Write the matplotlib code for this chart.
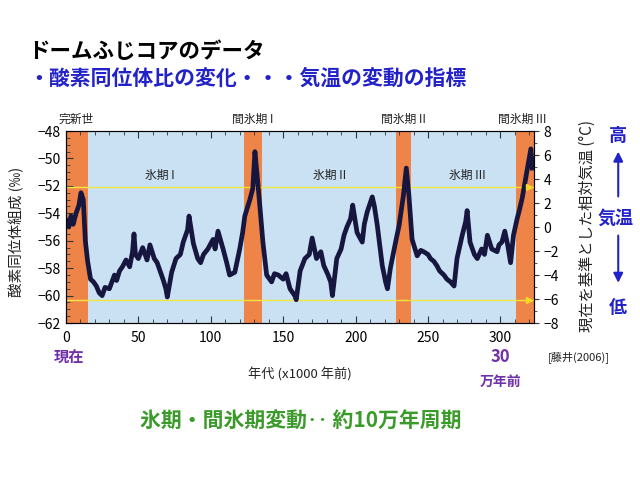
import numpy as np
import matplotlib.pyplot as plt
from matplotlib.ticker import MultipleLocator

plt.rcParams['font.family'] = ['Noto Sans CJK JP', 'DejaVu Sans']

# --- datos (edad en miles de anos, d18O en permil) ---
edad = [0, 2, 3.5, 5, 7, 9, 10.4, 12, 13.4, 15, 17, 19, 21, 23, 25, 27, 30, 33.5, 35, 37,
        39, 41.5, 44, 46, 47, 48, 50, 53, 56, 58, 61, 63, 65, 67, 69, 70, 73, 76, 79, 81,
        84, 85, 88, 91, 93, 95, 98, 101.6, 103, 105, 108.5, 111, 113, 116.6, 118, 120, 122,
        123.5, 127, 129, 130.5, 132, 134, 136, 138.6, 142, 144, 146.6, 150, 152, 154.7, 158,
        159, 161.7, 165, 168, 170, 173, 176, 178, 181, 182.8, 184, 187, 190, 192, 194,
        196.5, 198, 201, 204.6, 206, 208, 211.5, 213, 215, 218.4, 220.7, 222, 224, 227.6,
        230, 233, 235, 236.8, 239, 242.5, 245, 247, 250, 251.7, 254, 256, 258, 261, 263,
        265.5, 268, 270, 273.6, 276, 277, 279, 282, 284, 287, 289, 291, 294, 297.7, 299,
        301, 303, 305, 307, 309, 311.5, 313, 315, 317, 319.5, 321, 322]
d18o = [-54.5, -55.0, -54.2, -54.8, -54.0, -53.4, -52.5, -53.0, -56.0, -57.5, -58.8, -59.0,
        -59.3, -59.8, -60.0, -59.4, -59.5, -58.5, -58.9, -58.2, -57.9, -57.4, -57.9, -56.8,
        -55.5, -57.0, -57.3, -56.5, -57.4, -56.3, -57.3, -57.6, -58.2, -58.8, -59.5, -60.1,
        -58.3, -57.3, -57.0, -56.1, -55.2, -54.2, -56.2, -57.3, -57.6, -57.0, -56.6, -55.9,
        -56.6, -55.3, -56.6, -57.6, -58.5, -58.3, -57.6, -56.6, -55.4, -54.2, -53.0, -52.2,
        -49.5, -51.2, -53.6, -56.1, -58.5, -59.0, -58.4, -58.5, -58.8, -58.4, -59.5, -60.0,
        -60.3, -58.2, -57.3, -57.0, -55.8, -57.3, -56.8, -57.8, -58.5, -59.0, -60.0, -57.3,
        -56.6, -55.6, -55.0, -54.4, -53.4, -55.4, -56.1, -54.8, -53.9, -52.8, -53.5, -54.9,
        -57.8, -59.0, -59.5, -58.0, -56.1, -54.9, -52.7, -50.7, -52.7, -55.9, -57.1, -56.7,
        -56.8, -57.0, -57.3, -57.5, -57.8, -58.2, -58.5, -58.8, -59.0, -59.3, -57.3, -55.6,
        -54.6, -53.8, -56.1, -57.0, -57.3, -56.6, -57.0, -55.6, -56.6, -56.8, -56.3, -56.1,
        -55.3, -56.3, -57.6, -55.6, -54.4, -53.8, -52.9, -51.7, -50.2, -49.3, -50.7]

interglaciales = [(0, 15), (123, 135.6), (228, 238), (311, 323)]
linea_alta = -52.05
linea_baja = -60.3

fig = plt.figure(figsize=(6.4, 4.8), dpi=100)
ax = fig.add_axes([0.103, 0.327, 0.731, 0.400])
ax.set_facecolor('#c9e1f3')

for a, b in interglaciales:
    ax.axvspan(a, b, color='#ef8448', zorder=1, lw=0)

ax.axhline(linea_alta, color='#f2e640', lw=1, zorder=2)
ax.axhline(linea_baja, color='#f2e640', lw=1, zorder=2)
ax.plot(edad, d18o, color='#16163e', lw=3.4, zorder=3)
ax.plot([319.5, 319.5], [linea_alta, linea_baja], ls='none', marker='>', ms=5,
        color='#f5d820', zorder=4)

ax.set_xlim(0, 323)
ax.set_ylim(-62, -48)
ax.xaxis.set_major_locator(MultipleLocator(50))
ax.xaxis.set_minor_locator(MultipleLocator(10))
ax.yaxis.set_major_locator(MultipleLocator(2))
ax.yaxis.set_minor_locator(MultipleLocator(0.5))
ax.tick_params(axis='both', which='both', direction='in', top=True, labelsize=10, color='#333333')
ax.tick_params(which='major', length=5)
ax.tick_params(which='minor', length=3)
ax.tick_params(axis='x', pad=6)
for s in ax.spines.values():
    s.set_color('#333333')

ax2 = ax.twinx()
ax2.set_ylim(-8, 8)
ax2.yaxis.set_major_locator(MultipleLocator(2))
ax2.yaxis.set_minor_locator(MultipleLocator(1))
ax2.tick_params(axis='y', which='both', direction='out', labelsize=10, color='#333333')

ax.text(0.5, -0.27, '年代 (x1000 年前)', transform=ax.transAxes, ha='center', va='center',
        fontsize=9.5, color='#222222')
fig.text(0.026, 0.517, '酸素同位体組成 (‰)', rotation=90, ha='center', va='center',
         fontsize=10.5, color='#222222')
fig.text(0.917, 0.529, '現在を基準とした相対気温 (°C)', rotation=90, ha='center', va='center',
         fontsize=11, color='#222222')

# etiquetas de periodos
ax.text(7, -47.6, '完新世', ha='center', va='bottom', fontsize=8.5, color='#222222')
ax.text(129, -47.6, '間氷期 I', ha='center', va='bottom', fontsize=8.5, color='#222222')
ax.text(233, -47.6, '間氷期 II', ha='center', va='bottom', fontsize=8.5, color='#222222')
ax.text(315, -47.6, '間氷期 III', ha='center', va='bottom', fontsize=8.5, color='#222222')
ax.text(65, -51.2, '氷期 I', ha='center', va='center', fontsize=8.5, color='#222222')
ax.text(182, -51.2, '氷期 II', ha='center', va='center', fontsize=8.5, color='#222222')
ax.text(277, -51.2, '氷期 III', ha='center', va='center', fontsize=8.5, color='#222222')

# titulos
fig.text(0.044, 0.892, 'ドームふじコアのデータ', fontsize=15.5, fontweight='bold',
         color='black', ha='left', va='center')
fig.text(0.044, 0.838, '・酸素同位体比の変化・・・気温の変動の指標', fontsize=15,
         fontweight='bold', color='#2222c8', ha='left', va='center')

fig.text(0.108, 0.254, '現在', fontsize=11, fontweight='bold', color='#7030a8',
         ha='center', va='center')
fig.text(0.782, 0.256, '30', fontsize=12, fontweight='bold', color='#7030a8',
         ha='center', va='center')
fig.text(0.782, 0.204, '万年前', fontsize=10, fontweight='bold', color='#7030a8',
         ha='center', va='center')
fig.text(0.905, 0.257, '[藤井(2006)]', fontsize=8, color='#222222', ha='center', va='center')

fig.text(0.47, 0.125, '氷期・間氷期変動‥ 約10万年周期', fontsize=15, fontweight='bold',
         color='#3a9a2a', ha='center', va='center')

# flechas del lado derecho
azul = '#2222c8'
fig.text(0.966, 0.718, '高', fontsize=13, fontweight='bold', color=azul, ha='center', va='center')
fig.text(0.962, 0.546, '気温', fontsize=13, fontweight='bold', color=azul, ha='center', va='center')
fig.text(0.966, 0.360, '低', fontsize=13, fontweight='bold', color=azul, ha='center', va='center')
fig.patches.append(plt.matplotlib.patches.FancyArrowPatch(
    (0.966, 0.585), (0.966, 0.690), transform=fig.transFigure, arrowstyle='-|>',
    mutation_scale=14, color=azul, lw=1.5))
fig.patches.append(plt.matplotlib.patches.FancyArrowPatch(
    (0.966, 0.515), (0.966, 0.405), transform=fig.transFigure, arrowstyle='-|>',
    mutation_scale=14, color=azul, lw=1.5))

plt.savefig('out.png', dpi=100)
